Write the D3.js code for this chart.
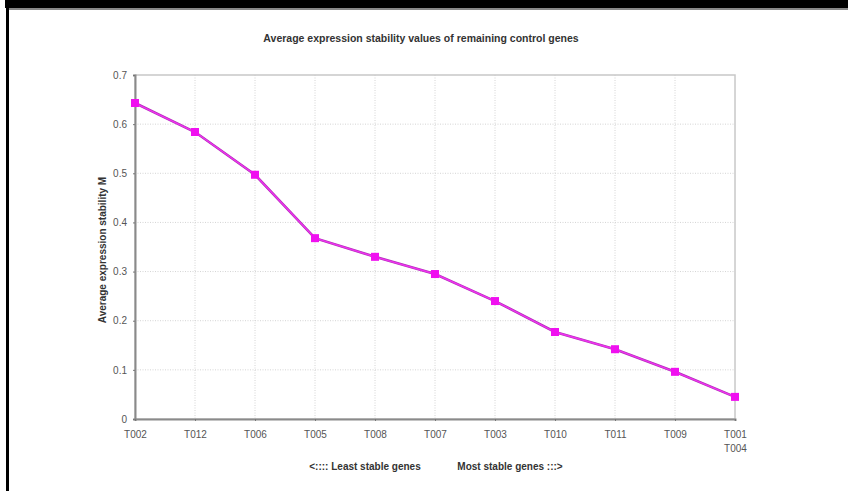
<!DOCTYPE html>
<html>
<head>
<meta charset="utf-8">
<script src="https://cdn.jsdelivr.net/npm/d3@7"></script>
<style>
  body { margin: 0; background: #fff; }
  svg { display: block; }
  text { font-family: "Liberation Sans Narrow", "Liberation Sans", Arial, sans-serif; }
</style>
</head>
<body>
<script>
var genes = ["T002", "T012", "T006", "T005", "T008", "T007", "T003", "T010", "T011", "T009", "T001"];
var extraLabel = { "T001": "T004" };
var stability = [0.643, 0.584, 0.497, 0.368, 0.330, 0.295, 0.240, 0.177, 0.142, 0.096, 0.045];
var yTicks = [0, 0.1, 0.2, 0.3, 0.4, 0.5, 0.6, 0.7];

var width = 848,
    height = 491,
    plotLeft = 135, plotRight = 735, plotTop = 75, plotBottom = 419;

var svg = d3.select("body").append("svg")
    .attr("width", width)
    .attr("height", height);

// black frame round the picture (top and left only)
svg.append("rect").attr("x", 5).attr("y", 0).attr("width", width - 5).attr("height", 8).attr("fill", "#000");
svg.append("rect").attr("x", 8).attr("y", 8).attr("width", width - 8).attr("height", 2).attr("fill", "#888");
svg.append("rect").attr("x", 6).attr("y", 0).attr("width", 3).attr("height", height).attr("fill", "#000");

var x = d3.scalePoint()
    .domain(genes)
    .range([plotLeft, plotRight]);

var y = d3.scaleLinear()
    .domain([0, 0.7])
    .range([plotBottom, plotTop]);

// grid
svg.append("g")
  .selectAll("line")
  .data(yTicks.slice(1, -1))
  .enter().append("line")
    .attr("x1", plotLeft).attr("x2", plotRight)
    .attr("y1", function(d) { return y(d); })
    .attr("y2", function(d) { return y(d); })
    .attr("stroke", "#d4d4d4")
    .attr("stroke-dasharray", "1,1.5");

svg.append("g")
  .selectAll("line")
  .data(genes.slice(1, -1))
  .enter().append("line")
    .attr("x1", function(d) { return x(d); })
    .attr("x2", function(d) { return x(d); })
    .attr("y1", plotTop).attr("y2", plotBottom)
    .attr("stroke", "#d4d4d4")
    .attr("stroke-dasharray", "1,1.5");

// plot frame
svg.append("rect")
    .attr("x", plotLeft).attr("y", plotTop)
    .attr("width", plotRight - plotLeft).attr("height", plotBottom - plotTop)
    .attr("fill", "none")
    .attr("stroke", "#c8c8c8")
    .attr("stroke-width", 1.5);

// axes
var yAxis = svg.append("g")
    .attr("transform", "translate(" + plotLeft + ",0)")
    .call(d3.axisLeft(y).tickValues(yTicks).tickSize(2).tickPadding(6)
      .tickFormat(function(d) { return d === 0 ? "0" : d3.format(".1f")(d); }));

var xAxis = svg.append("g")
    .attr("transform", "translate(0," + plotBottom + ")")
    .call(d3.axisBottom(x).tickSize(2).tickPadding(10));

[yAxis, xAxis].forEach(function(g) {
  g.select(".domain").attr("stroke", "#8a8a8a").attr("stroke-width", 2);
  g.selectAll(".tick line").attr("stroke", "#777");
  g.selectAll(".tick text").attr("fill", "#555").style("font-size", "10px")
    .style("font-family", "'Liberation Sans Narrow', 'Liberation Sans', Arial, sans-serif");
});

xAxis.selectAll(".tick text").each(function(d) {
  if (extraLabel[d]) {
    d3.select(this).append("tspan")
        .attr("x", 0).attr("dy", "1.35em")
        .text(extraLabel[d]);
  }
});

// line and markers
var data = genes.map(function(g, i) { return { gene: g, value: stability[i] }; });

var line = d3.line()
    .x(function(d) { return x(d.gene); })
    .y(function(d) { return y(d.value); });

svg.append("path")
    .datum(data)
    .attr("d", line)
    .attr("fill", "none")
    .attr("stroke", "#b030b8")
    .attr("stroke-width", 2.6);

svg.append("path")
    .datum(data)
    .attr("d", line)
    .attr("fill", "none")
    .attr("stroke", "#ee33ee")
    .attr("stroke-width", 1.4);

svg.append("g")
  .selectAll("rect")
  .data(data)
  .enter().append("rect")
    .attr("x", function(d) { return x(d.gene) - 4; })
    .attr("y", function(d) { return y(d.value) - 4; })
    .attr("width", 8).attr("height", 8)
    .attr("fill", "#f010f0");

// texts
svg.append("text")
    .attr("x", 421).attr("y", 42)
    .attr("text-anchor", "middle")
    .attr("fill", "#333")
    .style("font-size", "10.5px")
    .style("font-weight", "bold")
    .text("Average expression stability values of remaining control genes");

svg.append("text")
    .attr("transform", "translate(106,250) rotate(-90)")
    .attr("text-anchor", "middle")
    .attr("fill", "#333")
    .style("font-size", "10px")
    .style("font-weight", "bold")
    .text("Average expression stability M");

svg.append("text")
    .attr("x", 365).attr("y", 470)
    .attr("text-anchor", "middle")
    .attr("fill", "#333")
    .style("font-size", "10px")
    .style("font-weight", "bold")
    .text("<:::: Least stable genes");

svg.append("text")
    .attr("x", 510).attr("y", 470)
    .attr("text-anchor", "middle")
    .attr("fill", "#333")
    .style("font-size", "10px")
    .style("font-weight", "bold")
    .text("Most stable genes :::>");
</script>
</body>
</html>
